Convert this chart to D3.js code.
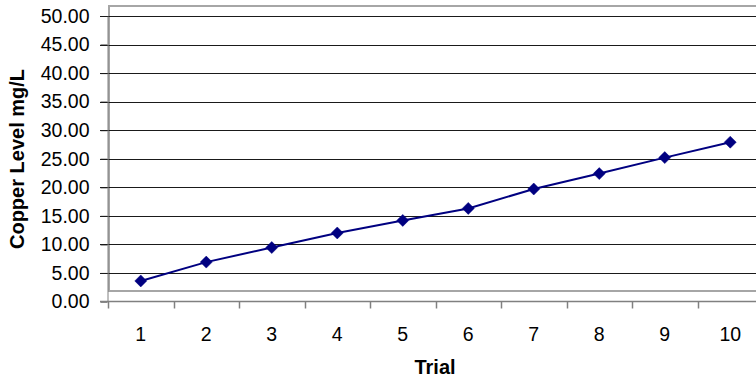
<!DOCTYPE html>
<html>
<head>
<meta charset="utf-8">
<script src="https://cdn.jsdelivr.net/npm/d3@7"></script>
<style>
  html, body { margin: 0; padding: 0; background: #fff; }
  svg { display: block; }
  text { font-family: Arial, "Liberation Sans", sans-serif; }
</style>
</head>
<body>
<svg id="chart" width="756" height="381"></svg>
<script>
const categories = ["1","2","3","4","5","6","7","8","9","10"];
const copperLevel = [3.6, 6.9, 9.45, 12.0, 14.2, 16.3, 19.7, 22.4, 25.2, 27.9];
const yTicks = [0, 5, 10, 15, 20, 25, 30, 35, 40, 45, 50];
const xTitle = "Trial";
const yTitle = "Copper Level mg/L";

const svg = d3.select("#chart");
const W = 756, H = 381;
const axisX = 107.5, axisY = 301.5, right = W;

const x = d3.scaleBand().domain(categories).range([108, 763]).paddingInner(0).paddingOuter(0);
const y = d3.scaleLinear().domain([0, 50]).range([axisY, 16]);

// plot area frame (offset box)
svg.append("rect")
  .attr("x", 109).attr("y", 6)
  .attr("width", 700).attr("height", 285)
  .attr("fill", "#fff")
  .attr("stroke", "#a6a6a6").attr("stroke-width", 2);

// horizontal gridlines
svg.append("g").selectAll("line")
  .data(yTicks.filter(d => d > 0))
  .join("line")
  .attr("x1", 100).attr("x2", right)
  .attr("y1", d => Math.round(y(d)) + 0.5).attr("y2", d => Math.round(y(d)) + 0.5)
  .attr("stroke", "#1a1a1a").attr("stroke-width", 1);

// y axis
const yAxis = d3.axisLeft(y).tickValues(yTicks).tickSize(7).tickSizeOuter(0)
  .tickFormat(d => d.toFixed(2));
const gy = svg.append("g").attr("transform", `translate(${axisX},0)`).call(yAxis);
gy.select(".domain").attr("stroke", "#808080");
gy.selectAll(".tick line").attr("stroke", "#1a1a1a");
gy.selectAll(".tick text")
  .attr("x", -18)
  .attr("font-size", 19.5)
  .attr("fill", "#000")
  .style("font-family", "Arial, 'Liberation Sans', sans-serif");

// x axis
const gx = svg.append("g").attr("transform", `translate(0,${axisY})`);
gx.append("line").attr("x1", 100).attr("x2", right).attr("y1", 0).attr("y2", 0)
  .attr("stroke", "#808080").attr("stroke-width", 1.5);
gx.selectAll("line.tk")
  .data(categories)
  .join("line").attr("class", "tk")
  .attr("x1", d => Math.round(x(d)) + 0.5).attr("x2", d => Math.round(x(d)) + 0.5)
  .attr("y1", 0).attr("y2", 7)
  .attr("stroke", "#808080").attr("stroke-width", 1.5);
gx.selectAll("text")
  .data(categories)
  .join("text")
  .attr("x", d => x(d) + x.bandwidth() / 2)
  .attr("y", 39)
  .attr("text-anchor", "middle")
  .attr("font-size", 19.5)
  .attr("fill", "#000")
  .text(d => d);

// line
const line = d3.line()
  .x((d, i) => x(categories[i]) + x.bandwidth() / 2)
  .y(d => y(d));
svg.append("path")
  .datum(copperLevel)
  .attr("d", line)
  .attr("fill", "none")
  .attr("stroke", "#000080")
  .attr("stroke-width", 2);

// markers (diamonds)
svg.append("g").selectAll("path")
  .data(copperLevel)
  .join("path")
  .attr("transform", (d, i) => `translate(${x(categories[i]) + x.bandwidth() / 2},${y(d)})`)
  .attr("d", "M0,-6L6,0L0,6L-6,0Z")
  .attr("fill", "#000080")
  .attr("stroke", "#000080")
  .attr("stroke-width", 0.5);

// titles
svg.append("text")
  .attr("x", 435).attr("y", 374)
  .attr("text-anchor", "middle")
  .attr("font-size", 20)
  .attr("font-weight", "bold")
  .text(xTitle);

svg.append("text")
  .attr("transform", "translate(24,159) rotate(-90)")
  .attr("text-anchor", "middle")
  .attr("font-size", 20)
  .attr("font-weight", "bold")
  .text(yTitle);
</script>
</body>
</html>
